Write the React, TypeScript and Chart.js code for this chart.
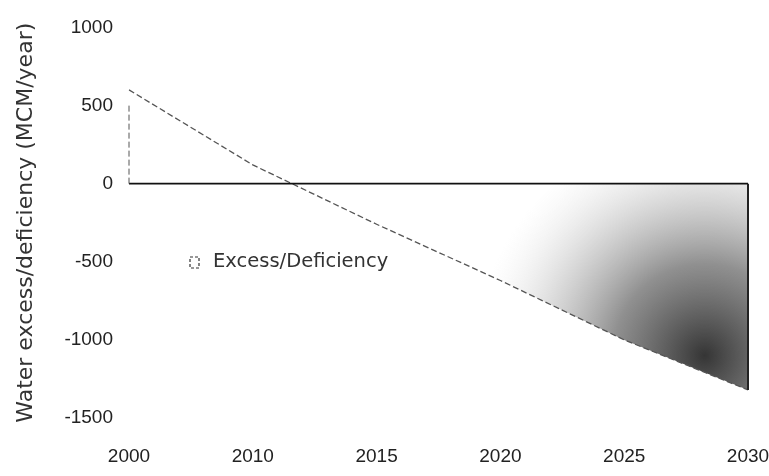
import React, { useEffect, useRef } from "react";
import { Chart, registerables } from "chart.js";

Chart.register(...registerables);

const categories = ["2000", "2010", "2015", "2020", "2025", "2030"];
const excessDeficiency = [600, 120, -260, -620, -1000, -1320];
const yTicks = [1000, 500, 0, -500, -1000, -1500];
const seriesLabel = "Excess/Deficiency";
const yTitle = "Water excess/deficiency (MCM/year)";

const edgesPlugin = {
  id: "areaEdges",
  afterDatasetsDraw(chart: any) {
    const meta = chart.getDatasetMeta(0);
    const pts = meta.data;
    if (!pts || pts.length < 2) return;
    const y0 = chart.scales.y.getPixelForValue(0);
    const c = chart.ctx;
    const first = pts[0];
    const last = pts[pts.length - 1];
    c.save();
    c.strokeStyle = "#111";
    c.lineWidth = 1.6;
    c.setLineDash([]);
    c.beginPath();
    c.moveTo(first.x, y0);
    c.lineTo(last.x, y0);
    c.stroke();
    c.strokeStyle = "#555";
    c.lineWidth = 1;
    c.setLineDash([6, 3]);
    c.beginPath();
    c.moveTo(first.x, y0);
    c.lineTo(first.x, first.y + 14);
    c.stroke();
    c.strokeStyle = "#222";
    c.lineWidth = 2;
    c.setLineDash([]);
    c.beginPath();
    c.moveTo(last.x, y0);
    c.lineTo(last.x, last.y);
    c.stroke();
    c.restore();
  },
};

const legendPlugin = {
  id: "insideLegend",
  afterDraw(chart: any) {
    const c = chart.ctx;
    const x = 190;
    const y = 257;
    c.save();
    c.strokeStyle = "#333";
    c.lineWidth = 1.2;
    c.setLineDash([3, 2]);
    c.strokeRect(x, y, 9, 11);
    c.setLineDash([]);
    c.fillStyle = "#333";
    c.font = "19.5px 'DejaVu Sans', sans-serif";
    c.textBaseline = "alphabetic";
    c.textAlign = "left";
    c.fillText(seriesLabel, x + 23, y + 10);
    c.restore();
  },
};

const tickFont = { family: "'Liberation Sans', Arial, sans-serif", size: 19 };

export default function App() {
  const ref = useRef<HTMLCanvasElement | null>(null);

  useEffect(() => {
    if (!ref.current) return;
    const chart = new Chart(ref.current, {
      type: "line",
      data: {
        labels: categories,
        datasets: [
          {
            label: seriesLabel,
            data: excessDeficiency,
            borderColor: "#555",
            borderWidth: 1.3,
            borderDash: [6, 3],
            pointRadius: 0,
            tension: 0,
            fill: "origin",
            backgroundColor: (ctx: any) => {
              const ch = ctx.chart;
              const area = ch.chartArea;
              if (!area) return "rgba(0,0,0,0)";
              const w = area.right - area.left;
              const h = area.bottom - area.top;
              const cx = area.left + w * 0.93;
              const cy = area.top + h * 0.84;
              const g = ch.ctx.createRadialGradient(cx, cy, 0, cx, cy, w * 0.37);
              g.addColorStop(0, "rgba(25,25,25,0.88)");
              g.addColorStop(0.4, "rgba(70,70,70,0.6)");
              g.addColorStop(0.75, "rgba(130,130,130,0.22)");
              g.addColorStop(1, "rgba(200,200,200,0)");
              return g;
            },
          },
        ],
      },
      options: {
        animation: false,
        responsive: true,
        maintainAspectRatio: false,
        layout: { padding: { top: 21, right: 21, bottom: 0, left: 0 } },
        plugins: {
          legend: { display: false },
          tooltip: { enabled: false },
        },
        scales: {
          x: {
            type: "category",
            offset: false,
            grid: { display: false, drawTicks: false },
            border: { display: false },
            ticks: {
              color: "#222",
              padding: 27,
              maxRotation: 0,
              autoSkip: false,
              font: tickFont,
            },
            afterFit: (s: any) => {
              s.height = 58;
              s.paddingLeft = 0;
              s.paddingRight = 0;
            },
          },
          y: {
            min: -1500,
            max: 1000,
            afterBuildTicks: (s: any) => {
              s.ticks = yTicks.map((v) => ({ value: v }));
            },
            grid: { display: false, drawTicks: false },
            border: { display: false },
            ticks: {
              color: "#222",
              padding: 16,
              font: tickFont,
              callback: (v: any) => String(v),
            },
            title: {
              display: true,
              text: yTitle,
              color: "#333",
              padding: { top: 13, bottom: 0 },
              font: { family: "'DejaVu Sans', sans-serif", size: 22 },
            },
            afterFit: (s: any) => {
              s.width = 129;
            },
          },
        },
      },
      plugins: [edgesPlugin, legendPlugin],
    });
    return () => chart.destroy();
  }, []);

  return (
    <div style={{ position: "absolute", left: 0, top: 0, width: 769, height: 476, background: "#fff" }}>
      <canvas ref={ref} />
    </div>
  );
}
